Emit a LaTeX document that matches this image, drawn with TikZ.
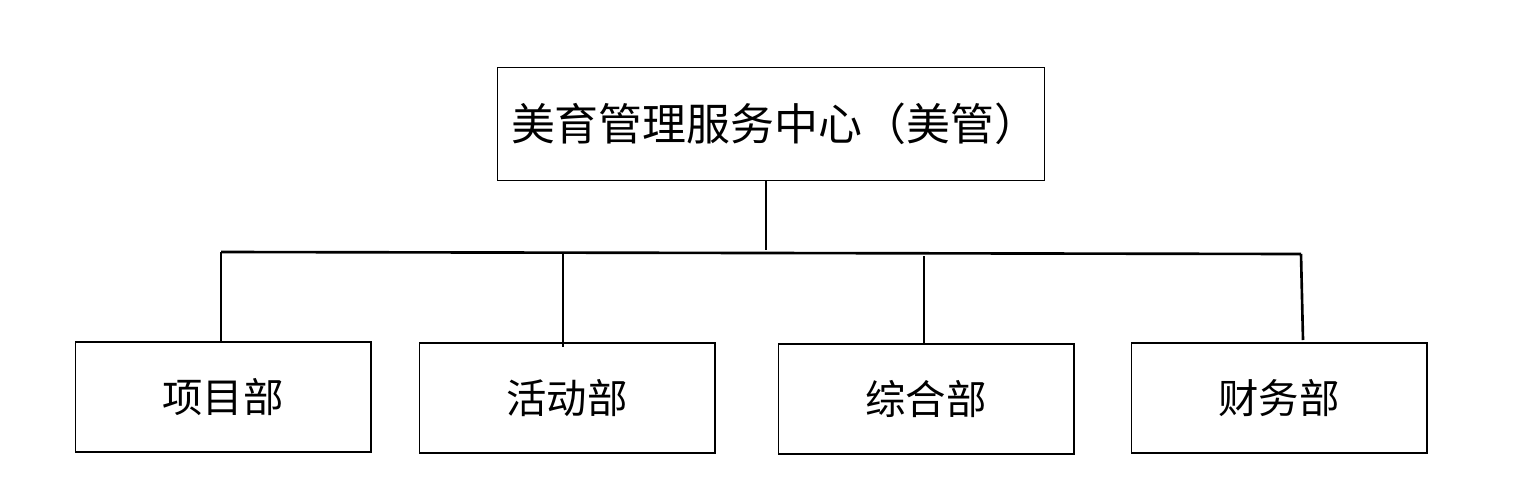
\documentclass[tikz,border=0pt]{standalone}
\usepackage{fontspec}
\newfontfamily\cjk{Noto Sans CJK SC}
\usetikzlibrary{positioning}

\begin{document}
\begin{tikzpicture}[x=0.02cm,y=-0.02cm,
  unit/.style={draw,line width=0.6pt,minimum width=5.92cm,minimum height=2.2cm,font=\cjk\fontsize{23}{23}\selectfont},
  link/.style={line width=1.5pt}]
\useasboundingbox (0,0) rectangle (1518,484);
%
\node[draw,line width=0.6pt,minimum width=10.94cm,minimum height=2.26cm,anchor=north west,
  font=\cjk\fontsize{25}{25}\selectfont,text width=10.4cm,align=left] (centre) at (497,67) {美育管理服务中心（美管）};
\node[unit] (proj) at (223,397) {项目部};
\node[unit] (act) at (567,398) {活动部};
\node[unit] (comp) at (926,399) {综合部};
\node[unit] (fin) at (1279,398) {财务部};
%
\coordinate (bus) at (766,250);
\coordinate (busl) at (221,252);
\coordinate (busr) at (1301,254);
\draw[link] (centre.south -| bus) -- (bus);
\draw[link] (busl) -- (busr);
\draw[link] (busl) -- (proj.north -| busl);
\draw[link] (563,252) -- (563,347);
\draw[link] (924,256) -- (comp.north -| 924,0);
\draw[link] (busr) -- (1303,340);
\end{tikzpicture}
\end{document}
